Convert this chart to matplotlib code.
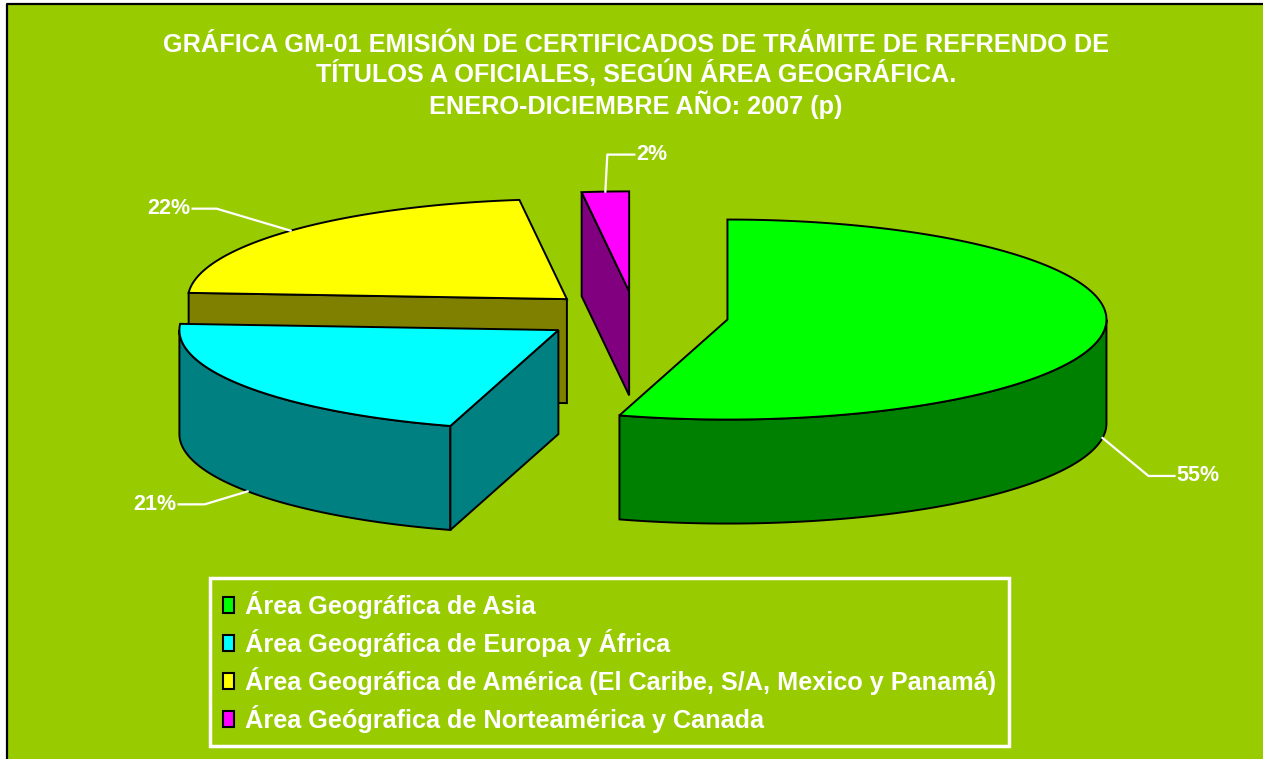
import numpy as np
import matplotlib
matplotlib.use('Agg')
import matplotlib.pyplot as plt
from matplotlib.patches import Polygon, Rectangle, Patch

plt.rcParams['font.family'] = ['Liberation Sans', 'DejaVu Sans']

# data
categories = ['Área Geográfica de Asia',
              'Área Geográfica de Europa y África',
              'Área Geográfica de América (El Caribe, S/A, Mexico y Panamá)',
              'Área Geógrafica de Norteamérica y Canada']
values = [54.6, 21.4, 22.0, 2.0]
top_colors = ['#00FF00', '#00FFFF', '#FFFF00', '#FF00FF']
side_colors = ['#008000', '#008080', '#808000', '#800080']
title = ('GRÁFICA GM-01 EMISIÓN DE CERTIFICADOS DE TRÁMITE DE REFRENDO DE\n'
         'TÍTULOS A OFICIALES, SEGÚN ÁREA GEOGRÁFICA.\n'
         'ENERO-DICIEMBRE AÑO: 2007 (p)')

BG = '#99CC00'
W, H = 1263, 759

# pie geometry (pixels)
cx, cy = 635, 316
a, b = 379, 100
depth = 104
explode = 0.2465
# label leader offsets from the anchor: (elbow dx, dy, text dx)
label_offsets = [(46, 38, 26), (-43, 13, -26), (-74, -22, -24), (2, -37, 27)]

fig = plt.figure(figsize=(W / 100, H / 100), dpi=100, facecolor='white')
ax = fig.add_axes([0, 0, 1, 1])
ax.set_xlim(0, W)
ax.set_ylim(H, 0)
ax.axis('off')

ax.add_patch(Rectangle((6.5, 3.5), W, H, facecolor=BG, edgecolor='none', zorder=0))
ax.plot([6.5, 6.5, W], [H, 3.5, 3.5], color='black', lw=1.6, zorder=1)


def pt(c, t, dz=0):
    t = np.radians(t)
    return np.column_stack([c[0] + a * np.sin(t), c[1] - b * np.cos(t) + dz])


def arc(c, t0, t1, dz=0):
    n = max(int(abs(t1 - t0)) * 2, 2)
    return pt(c, np.linspace(t0, t1, n), dz)


total = float(sum(values))
starts = np.concatenate([[0], np.cumsum(values)[:-1]]) / total * 360
ends = np.cumsum(values) / total * 360

slices = []
for i, v in enumerate(values):
    t0, t1 = starts[i], ends[i]
    mid = np.radians((t0 + t1) / 2)
    c = (cx + explode * a * np.sin(mid), cy - explode * b * np.cos(mid))
    slices.append((c[1], i, c, t0, t1))

kw = dict(edgecolor='black', lw=1.4, joinstyle='miter')
for order, (_, i, c, t0, t1) in enumerate(sorted(slices)):
    z = 2 + order
    # outer wall, front half only
    u0, u1 = max(t0, 90), min(t1, 270)
    if u1 > u0:
        top = arc(c, u0, u1)
        bot = arc(c, u1, u0, depth)
        ax.add_patch(Polygon(np.vstack([top, bot]), closed=True,
                             facecolor=side_colors[i], zorder=z, **kw))
    # radial walls facing the viewer
    for t, vis in ((t0, np.sin(np.radians(t0)) < -1e-6),
                   (t1, np.sin(np.radians(t1)) > 1e-6)):
        if vis:
            p = pt(c, t)[0]
            quad = [c, p, (p[0], p[1] + depth), (c[0], c[1] + depth)]
            ax.add_patch(Polygon(quad, closed=True,
                                 facecolor=side_colors[i], zorder=z, **kw))
    # top face
    poly = np.vstack([[c], arc(c, t0, t1)])
    ax.add_patch(Polygon(poly, closed=True, facecolor=top_colors[i],
                         zorder=z + 0.5, **kw))

    # data label with leader line
    tm = (t0 + t1) / 2
    anchor = pt(c, tm, depth if np.cos(np.radians(tm)) < 0 else 0)[0]
    dx, dy, tx = label_offsets[i]
    ex, ey = anchor[0] + dx, anchor[1] + dy
    ax.plot([anchor[0], ex, ex + tx], [anchor[1], ey, ey],
            color='white', lw=1.6, zorder=20)
    ax.text(ex + tx + (2 if tx > 0 else -2), ey, f'{values[i]:.0f}%',
            ha='left' if tx > 0 else 'right', va='center',
            color='white', fontsize=15.5, fontweight='bold', zorder=21)

ax.text(636, 76, title, ha='center', va='center', color='white',
        fontsize=18.2, fontweight='bold', linespacing=1.15, zorder=21)

handles = [Patch(facecolor=col, edgecolor='black', lw=1.5) for col in top_colors]
leg = ax.legend(handles, categories, loc='upper left',
                bbox_to_anchor=(210, 578), bbox_transform=ax.transData,
                borderaxespad=0, fancybox=False, framealpha=1,
                facecolor=BG, edgecolor='white', labelcolor='white',
                prop={'weight': 'bold', 'size': 18.2},
                handlelength=0.45, handleheight=0.6, handletextpad=0.45,
                labelspacing=0.4, borderpad=0.5)
leg.get_frame().set_linewidth(2.5)
leg.set_zorder(30)

fig.savefig('out.png', dpi=100, facecolor=fig.get_facecolor())
